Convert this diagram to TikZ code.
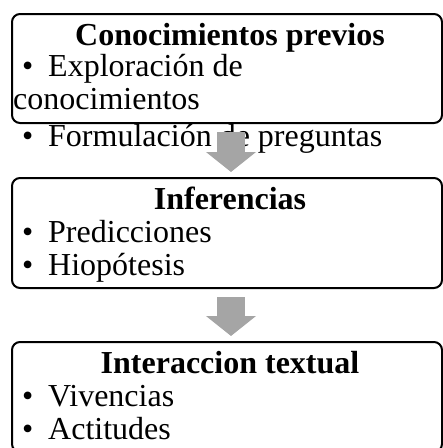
\documentclass[tikz,border=0pt]{standalone}
\usepackage{fontspec}
\setmainfont{Liberation Serif}
\usepackage{tikz}
\usetikzlibrary{arrows.meta}
\definecolor{grisflecha}{RGB}{165,165,165}

\begin{document}
\begin{tikzpicture}[x=1pt,y=-1pt,
    font=\fontsize{32}{33}\selectfont,
    caja/.style={draw,line width=2pt,rounded corners=8pt,minimum width=430pt,inner sep=0pt},
    titulo/.style={anchor=base,inner sep=0pt,font=\fontsize{32}{33}\selectfont\bfseries},
    punto/.style={anchor=base west,inner sep=0pt},
    linea/.style={anchor=base west,inner sep=0pt},
    flecha/.style={grisflecha,line width=28pt,-{Triangle[width=49pt,length=20pt]}}]
        % medidas
        \newcommand{\xcentro}{227}
        \newcommand{\xtitulo}{230}
        \newcommand{\xpunto}{22}
        \newcommand{\xtexto}{48}

        \clip (0,0) rectangle (443,448);

        % cajas
        \node[caja,minimum height=109pt] (caja1) at (\xcentro,68.5) {};
        \node[caja,minimum height=110pt] (caja2) at (\xcentro,233) {};
        \node[caja,minimum height=110pt] (caja3) at (\xcentro,397) {};

        % primera caja
        \node[titulo] (tit1) at (\xtitulo,45) {Conocimientos previos};
        \node[punto] (p11) at (\xpunto,76) {•};
        \node[linea] (t11) at (\xtexto,76) {Exploración de};
        \node[linea] (t12) at (13,109) {conocimientos};
        \node[punto] (p12) at (\xpunto,146) {•};
        \node[linea] (t13) at (\xtexto,146) {Formulación de preguntas};

        % segunda caja
        \node[titulo] (tit2) at (\xtitulo,209) {Inferencias};
        \node[punto] (p21) at (\xpunto,242) {•};
        \node[linea] (t21) at (\xtexto,242) {Predicciones};
        \node[punto] (p22) at (\xpunto,275) {•};
        \node[linea] (t22) at (\xtexto,275) {Hiopótesis};

        % tercera caja
        \node[titulo] (tit3) at (\xtitulo,373) {Interaccion textual};
        \node[punto] (p31) at (\xpunto,406) {•};
        \node[linea] (t31) at (\xtexto,406) {Vivencias};
        \node[punto] (p32) at (\xpunto,439) {•};
        \node[linea] (t32) at (\xtexto,439) {Actitudes};

        % flechas
        \coordinate (f1a) at (231,132);
        \coordinate (f1b) at (231,172);
        \coordinate (f2a) at (231,297);
        \coordinate (f2b) at (231,336);
        \draw[flecha] (f1a) -- (f1b);
        \draw[flecha] (f2a) -- (f2b);
\end{tikzpicture}
\end{document}
